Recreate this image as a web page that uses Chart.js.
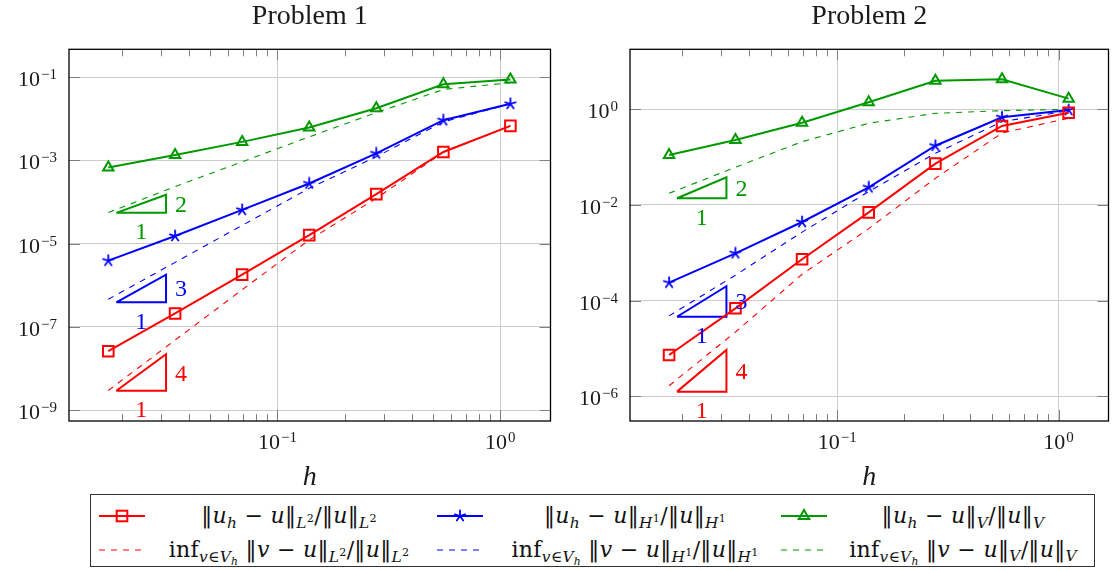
<!DOCTYPE html>
<html>
<head>
<meta charset="utf-8">
<script src="https://cdn.jsdelivr.net/npm/chart.js@4.4.1/dist/chart.umd.min.js"></script>
<style>
  html, body { margin: 0; padding: 0; background: #fff; }
  #page { position: relative; width: 1118px; height: 570px; overflow: hidden; font-family: "Liberation Serif", "DejaVu Serif", serif; }
  canvas { position: absolute; top: 0; }
  #c1 { left: 0; }
  #c2 { left: 560px; }
  #legend { position: absolute; left: 90px; top: 494px; width: 1005px; height: 73px; border: 1.3px solid #333; box-sizing: border-box; }
  .sample { position: absolute; }
  .txt { position: absolute; transform: translate(-50%, -50%); font-family: "DejaVu Serif", serif; font-size: 22px; letter-spacing: 0.3px; white-space: nowrap; color: #111; line-height: 1; }
  .txt sub { font-size: 0.7em; vertical-align: -0.3em; line-height: 0; }
  .txt sup { font-size: 0.72em; vertical-align: 0.5em; line-height: 0; }
</style>
</head>
<body>
<div id="page">
  <canvas id="c1" width="560" height="490"></canvas>
  <canvas id="c2" width="558" height="490"></canvas>
  <div id="legend"></div>
</div>
<script>
// mesh sizes (same for both problems)
const h = [0.0174, 0.0347, 0.0694, 0.1388, 0.2777, 0.5554, 1.1107];

// Problem 1
const p1ErrL2 = [2.6e-8, 2.1e-7, 1.8e-6, 1.6e-5, 1.55e-4, 1.6e-3, 6.8e-3];
const p1ErrH1 = [3.9e-6, 1.53e-5, 6.5e-5, 2.8e-4, 1.48e-3, 9.3e-3, 2.3e-2];
const p1ErrV  = [6.8e-4, 1.35e-3, 2.8e-3, 6.2e-3, 1.8e-2, 6.8e-2, 8.9e-2];
const p1InfL2 = [2.95e-9, 4.8e-8, 7.8e-7, 1.23e-5, 1.23e-4, 1.58e-3, 6.8e-3];
const p1InfH1 = [4.6e-7, 3.55e-6, 2.75e-5, 2.14e-4, 1.23e-3, 8.5e-3, 2.3e-2];
const p1InfV  = [5.6e-5, 2.35e-4, 9.3e-4, 3.7e-3, 1.41e-2, 5.1e-2, 7.4e-2];

// Problem 2
const p2ErrL2 = [7.3e-6, 6.9e-5, 7.3e-4, 7.0e-3, 7.3e-2, 0.448, 0.849];
const p2ErrH1 = [2.37e-4, 9.75e-4, 4.4e-3, 2.34e-2, 0.173, 0.68, 0.966];
const p2ErrV  = [0.111, 0.228, 0.525, 1.4, 3.96, 4.24, 1.67];
const p2InfL2 = [1.66e-6, 2.2e-5, 3.55e-4, 3.2e-3, 3.6e-2, 0.32, 0.65];
const p2InfH1 = [4.8e-5, 3.4e-4, 2.7e-3, 1.9e-2, 0.12, 0.55, 0.93];
const p2InfV  = [0.0175, 0.0612, 0.21, 0.51, 0.824, 0.935, 1.0];

// slope triangles: x corners, then [bottom, top] y per norm
const slopeX = [0.0189, 0.0316];
const p1SlopeL2 = [2.9e-9, 2.2e-8];
const p1SlopeH1 = [3.9e-7, 1.8e-6];
const p1SlopeV  = [5.5e-5, 1.5e-4];
const p2SlopeL2 = [1.25e-6, 9.3e-6];
const p2SlopeH1 = [4.6e-5, 2.0e-4];
const p2SlopeV  = [1.38e-2, 3.8e-2];
const slopeLabels = ['4', '3', '2'];

// axes
const xRange = [0.01159, 1.681];
const p1YRange = [5.45e-10, 0.471];
const p2YRange = [3.04e-7, 17.95];
const xTickExps = [-1, 0];
const p1YTickExps = [-9, -7, -5, -3, -1];
const p2YTickExps = [-6, -4, -2, 0];
const titles = ['Problem 1', 'Problem 2'];
const xAxisTitle = 'h';

const RED = '#ff0000', BLUE = '#0000ff', GREEN = '#009900';
const SERIF = '"Liberation Serif", "DejaVu Serif", serif';

function starMarker(color) {
  const c = document.createElement('canvas');
  c.width = c.height = 14;
  const g = c.getContext('2d');
  g.strokeStyle = color; g.lineWidth = 1.8; g.lineCap = 'round';
  for (let i = 0; i < 5; i++) {
    const t = -Math.PI / 2 + i * 2 * Math.PI / 5;
    g.beginPath(); g.moveTo(7, 7);
    g.lineTo(7 + 5.5 * Math.cos(t), 7 + 5.5 * Math.sin(t));
    g.stroke();
  }
  return c;
}

function pts(ys) { return h.map((x, i) => ({ x, y: ys[i] })); }
function tri(ys) {
  return [{ x: slopeX[0], y: ys[0] }, { x: slopeX[1], y: ys[0] }, { x: slopeX[1], y: ys[1] }, { x: slopeX[0], y: ys[0] }];
}

function pow10(ctx, exp, x, baseline, align) {
  const e = String(exp).replace('-', '\u2212');
  ctx.font = '22px ' + SERIF;
  const wb = ctx.measureText('10').width;
  ctx.font = '15px ' + SERIF;
  const we = ctx.measureText(e).width + 1;
  const left = align === 'right' ? x - wb - we : x - (wb + we) / 2;
  ctx.textAlign = 'left';
  ctx.textBaseline = 'alphabetic';
  ctx.font = '22px ' + SERIF;
  ctx.fillText('10', left, baseline);
  ctx.font = '15px ' + SERIF;
  ctx.fillText(e, left + wb + 1, baseline - 7);
}

function decor(panel) {
  return {
    id: 'decor',
    afterDraw(chart) {
      const { ctx, chartArea: a } = chart;
      const xs = chart.scales.x, ys = chart.scales.y;
      const seg = (x0, y0, x1, y1) => { ctx.beginPath(); ctx.moveTo(x0, y0); ctx.lineTo(x1, y1); ctx.stroke(); };
      ctx.save();
      ctx.strokeStyle = '#808080';
      ctx.lineWidth = 1;
      for (let k = -2; k <= 0; k++) {
        for (let m = 1; m <= 9; m++) {
          const v = m * Math.pow(10, k);
          if (v < xs.min || v > xs.max) continue;
          const px = Math.round(xs.getPixelForValue(v)) + 0.5;
          const len = m === 1 ? 11 : 7;
          seg(px, a.bottom, px, a.bottom - len);
          seg(px, a.top, px, a.top + len);
        }
      }
      panel.yTicks.forEach(e => {
        const py = Math.round(ys.getPixelForValue(Math.pow(10, e))) + 0.5;
        seg(a.left, py, a.left + 11, py);
        seg(a.right, py, a.right - 11, py);
      });
      ctx.strokeStyle = '#000';
      ctx.lineWidth = 1.3;
      ctx.strokeRect(a.left, a.top, a.right - a.left, a.bottom - a.top);

      ctx.fillStyle = '#1a1a1a';
      xTickExps.forEach(e => pow10(ctx, e, xs.getPixelForValue(Math.pow(10, e)), a.bottom + 28, 'center'));
      panel.yTicks.forEach(e => pow10(ctx, e, a.left - 12, ys.getPixelForValue(Math.pow(10, e)) + 9, 'right'));

      ctx.textAlign = 'center';
      ctx.textBaseline = 'alphabetic';
      ctx.font = '28px ' + SERIF;
      ctx.fillText(panel.title, (a.left + a.right) / 2, 24);
      ctx.font = 'italic 28px ' + SERIF;
      ctx.fillText(xAxisTitle, (a.left + a.right) / 2, a.bottom + 64);

      ctx.font = '24px ' + SERIF;
      panel.slopes.forEach((s, i) => {
        const x0 = xs.getPixelForValue(slopeX[0]), x1 = xs.getPixelForValue(slopeX[1]);
        const y0 = ys.getPixelForValue(s.y[0]), y1 = ys.getPixelForValue(s.y[1]);
        ctx.fillStyle = s.color;
        ctx.textAlign = 'left';
        ctx.fillText(slopeLabels[i], x1 + 9, (y0 + y1) / 2 + 8);
        ctx.textAlign = 'center';
        ctx.fillText('1', (x0 + x1) / 2, y0 + 26.5);
      });
      ctx.restore();
    }
  };
}

function makePanel(id, p) {
  const solid = (label, data, color, style, radius) => ({
    label, data: pts(data), borderColor: color, borderWidth: 2, pointStyle: style,
    pointRadius: radius, pointBorderWidth: 2, pointBorderColor: color,
    pointBackgroundColor: 'rgba(0,0,0,0)', tension: 0
  });
  const dashed = (label, data, color) => ({
    label, data: pts(data), borderColor: color, borderWidth: 1.1, borderDash: [6, 6],
    pointRadius: 0, tension: 0
  });
  const slope = (data, color) => ({
    label: 'slope', data: tri(data), borderColor: color, borderWidth: 2,
    pointRadius: 0, tension: 0, borderJoinStyle: 'miter'
  });
  const star = starMarker(BLUE);
  return new Chart(document.getElementById(id), {
    type: 'line',
    data: {
      datasets: [
        solid('L2', p.errL2, RED, 'rect', 7.5),
        solid('H1', p.errH1, BLUE, star, 6),
        solid('V', p.errV, GREEN, 'triangle', 6),
        dashed('inf L2', p.infL2, RED),
        dashed('inf H1', p.infH1, BLUE),
        dashed('inf V', p.infV, GREEN),
        slope(p.slopes[0].y, RED),
        slope(p.slopes[1].y, BLUE),
        slope(p.slopes[2].y, GREEN)
      ]
    },
    options: {
      responsive: false,
      animation: false,
      layout: { padding: { top: 49.3, right: p.padRight, left: 0, bottom: 0 } },
      plugins: { legend: { display: false }, tooltip: { enabled: false }, title: { display: false } },
      scales: {
        x: {
          type: 'logarithmic', min: xRange[0], max: xRange[1],
          afterFit: s => { s.height = 69; },
          afterBuildTicks: s => { s.ticks = xTickExps.map(e => ({ value: Math.pow(10, e) })); },
          ticks: { display: false },
          grid: { color: '#cccccc', lineWidth: 1, drawTicks: false },
          border: { display: false }
        },
        y: {
          type: 'logarithmic', min: p.yRange[0], max: p.yRange[1],
          afterFit: s => { s.width = p.axisWidth; },
          afterBuildTicks: s => { s.ticks = p.yTicks.map(e => ({ value: Math.pow(10, e) })); },
          ticks: { display: false },
          grid: { color: '#cccccc', lineWidth: 1, drawTicks: false },
          border: { display: false }
        }
      }
    },
    plugins: [decor(p)]
  });
}

makePanel('c1', {
  title: titles[0], yRange: p1YRange, yTicks: p1YTickExps, axisWidth: 69, padRight: 6,
  errL2: p1ErrL2, errH1: p1ErrH1, errV: p1ErrV, infL2: p1InfL2, infH1: p1InfH1, infV: p1InfV,
  slopes: [{ y: p1SlopeL2, color: RED }, { y: p1SlopeH1, color: BLUE }, { y: p1SlopeV, color: GREEN }]
});
makePanel('c2', {
  title: titles[1], yRange: p2YRange, yTicks: p2YTickExps, axisWidth: 70, padRight: 3,
  errL2: p2ErrL2, errH1: p2ErrH1, errV: p2ErrV, infL2: p2InfL2, infH1: p2InfH1, infV: p2InfV,
  slopes: [{ y: p2SlopeL2, color: RED }, { y: p2SlopeH1, color: BLUE }, { y: p2SlopeV, color: GREEN }]
});

// legend (3 columns x 2 rows)
const norm = (n) => '<sub><i>' + n.sym + '</i>' + (n.exp ? '<sup>' + n.exp + '</sup>' : '') + '</sub>';
const legendNorms = [
  { sym: 'L', exp: '2', color: RED, marker: 'square' },
  { sym: 'H', exp: '1', color: BLUE, marker: 'star' },
  { sym: 'V', exp: '', color: GREEN, marker: 'triangle' }
];
const colSample = [8, 346, 690];
const colText = [198, 544, 872];
const rowY = [21, 55];

function markerSvg(kind, color) {
  if (kind === 'square') return '<rect x="17.7" y="4.7" width="10.6" height="10.6" fill="none" stroke="' + color + '" stroke-width="2"/>';
  if (kind === 'triangle') return '<polygon points="23,4 28.2,13 17.8,13" fill="none" stroke="' + color + '" stroke-width="2"/>';
  let s = '';
  for (let i = 0; i < 5; i++) {
    const t = -Math.PI / 2 + i * 2 * Math.PI / 5;
    s += '<line x1="23" y1="10" x2="' + (23 + 5.5 * Math.cos(t)).toFixed(2) + '" y2="' + (10 + 5.5 * Math.sin(t)).toFixed(2) + '" stroke="' + color + '" stroke-width="1.8" stroke-linecap="round"/>';
  }
  return s;
}

const legend = document.getElementById('legend');
legendNorms.forEach((n, c) => {
  const sub = norm(n);
  const errText = '‖<i>u</i><sub><i>h</i></sub> − <i>u</i>‖' + sub + '/‖<i>u</i>‖' + sub;
  const infText = 'inf<sub><i>v</i>∈<i>V</i><sub><i>h</i></sub></sub> ‖<i>v</i> − <i>u</i>‖' + sub + '/‖<i>u</i>‖' + sub;
  legend.insertAdjacentHTML('beforeend',
    '<svg class="sample" width="46" height="20" style="left:' + colSample[c] + 'px;top:' + (rowY[0] - 10) + 'px">' +
    '<line x1="0" y1="10" x2="46" y2="10" stroke="' + n.color + '" stroke-width="2"/>' + markerSvg(n.marker, n.color) + '</svg>' +
    '<div class="txt" style="left:' + colText[c] + 'px;top:' + rowY[0] + 'px">' + errText + '</div>' +
    '<svg class="sample" width="46" height="20" style="left:' + colSample[c] + 'px;top:' + (rowY[1] - 10) + 'px">' +
    '<line x1="0" y1="10" x2="46" y2="10" stroke="' + n.color + '" stroke-width="1.1" stroke-dasharray="6 6"/></svg>' +
    '<div class="txt" style="left:' + colText[c] + 'px;top:' + rowY[1] + 'px">' + infText + '</div>');
});
</script>
</body>
</html>
